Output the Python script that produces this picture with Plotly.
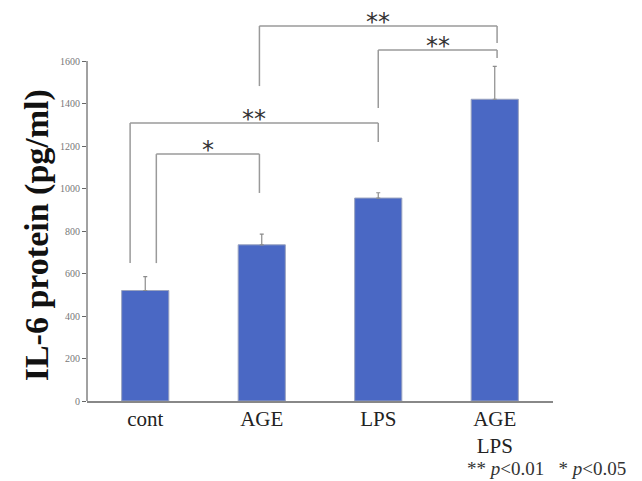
import plotly.graph_objects as go

categories = ["cont", "AGE", "LPS", "AGE<br>LPS"]
il6_mean = [520, 735, 955, 1420]
il6_err = [65, 50, 25, 155]
y_ticks = [0, 200, 400, 600, 800, 1000, 1200, 1400, 1600]

# significance brackets: (x_left, x_right, bar height, left leg bottom, right leg bottom, label)
brackets = [
    (0.095, 0.98, 1162, 649, 979, "*"),
    (-0.13, 2.0, 1308, 649, 1219, "**"),
    (0.98, 3.02, 1765, 1482, 1685, "**"),
    (2.0, 3.02, 1652, 1379, 1614, "**"),
]

x_pos = list(range(len(categories)))

fig = go.Figure()
fig.add_trace(go.Bar(
    x=x_pos, y=il6_mean, width=0.405,
    marker=dict(color="#4a68c4", line=dict(color="#9aa3bf", width=1)),
    error_y=dict(type="data", array=il6_err, arrayminus=[0] * len(il6_err),
                 symmetric=False, color="#8c8c8c", thickness=1.2, width=2),
    showlegend=False,
))

shapes = []
annotations = []
for xl, xr, h, lb, rb, lab in brackets:
    line = dict(color="#9a9a9a", width=1.5)
    shapes.append(dict(type="line", xref="x", yref="y", x0=xl, x1=xr, y0=h, y1=h, line=line))
    shapes.append(dict(type="line", xref="x", yref="y", x0=xl, x1=xl, y0=lb, y1=h, line=line))
    shapes.append(dict(type="line", xref="x", yref="y", x0=xr, x1=xr, y0=rb, y1=h, line=line))
    annotations.append(dict(x=(xl + xr) / 2, y=h, xref="x", yref="y", text=lab,
                            showarrow=False, yanchor="middle", yshift=4,
                            font=dict(family="DejaVu Sans", size=24, color="#333333")))

# y axis line only up to 1600
shapes.append(dict(type="line", xref="paper", yref="y", x0=0, x1=0, y0=0, y1=y_ticks[-1],
                   line=dict(color="#444444", width=1)))

annotations.append(dict(x=-0.107, y=0.422, xref="paper", yref="paper",
                        text="<b>IL-6 protein (pg/ml)</b>", textangle=-90, showarrow=False,
                        xanchor="center", yanchor="middle",
                        font=dict(family="Liberation Serif", size=34, color="#111111")))
annotations.append(dict(x=1.161, y=-0.173, xref="paper", yref="paper",
                        text="** <i>p</i>&lt;0.01   * <i>p</i>&lt;0.05", showarrow=False,
                        xanchor="right", yanchor="middle",
                        font=dict(family="Liberation Serif", size=19, color="#333333")))

fig.update_layout(
    width=634, height=473,
    margin=dict(l=79, r=89, t=0, b=80),
    plot_bgcolor="white", paper_bgcolor="white",
    shapes=shapes, annotations=annotations,
    xaxis=dict(range=[-0.5, 3.5], tickvals=x_pos, ticktext=categories,
               showline=True, linecolor="#888888", linewidth=1.5, ticks="",
               showgrid=False, zeroline=False, ticklabelstandoff=-2,
               tickfont=dict(family="Liberation Serif", size=21, color="#222222")),
    yaxis=dict(range=[0, 1849.4], tickvals=y_ticks, ticks="outside", ticklen=4,
               tickcolor="#666666", showline=False, showgrid=False, zeroline=False,
               tickfont=dict(family="Liberation Serif", size=10, color="#777777")),
)

fig.write_html("out.html")
